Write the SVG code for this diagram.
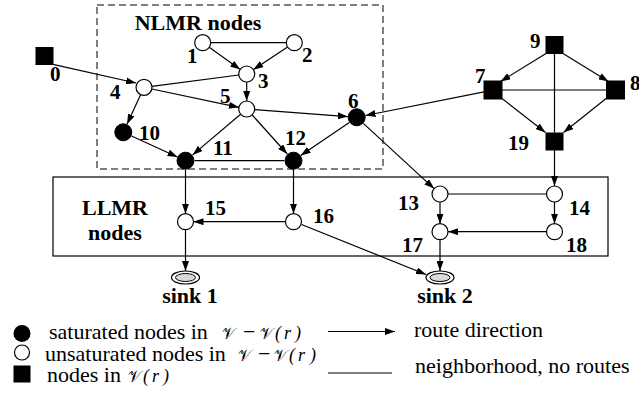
<svg xmlns="http://www.w3.org/2000/svg" width="639" height="395" viewBox="0 0 639 395">
<style>
text{font-family:"Liberation Serif","Times New Roman","DejaVu Serif",serif}
.lbl{font-weight:bold;font-size:21px;fill:#000}
.ttl{font-weight:bold;font-size:22px;fill:#000}
.leg{font-size:22px;fill:#000}
.math{font-family:"DejaVu Serif","DejaVu Sans","Noto Sans",serif;font-size:16px;fill:#000}
.mi{font-style:italic;font-size:18px;fill:#000}
.e{stroke:#000;stroke-width:1.2;fill:none}
.a{stroke:#000;stroke-width:1.2;fill:none;marker-end:url(#arr)}
.w{fill:#fff;stroke:#000;stroke-width:1.2}
.b{fill:#000;stroke:#000;stroke-width:1}
</style>
<defs>
<marker id="arr" markerUnits="userSpaceOnUse" markerWidth="10" markerHeight="7" refX="10" refY="3.5" orient="auto">
<path d="M0,0 L10,3.5 L0,7 z" fill="#000"/>
</marker>
</defs>
<rect x="97" y="5" width="286" height="164" fill="none" stroke="#000" stroke-width="1" stroke-dasharray="7,4"/>
<rect x="53" y="177" width="555" height="79" fill="none" stroke="#000" stroke-width="1.2"/>
<text class="ttl" x="198" y="30" text-anchor="middle" font-family="Liberation Serif, DejaVu Serif, serif">NLMR nodes</text>
<text class="ttl" x="115" y="215" text-anchor="middle" font-family="Liberation Serif, DejaVu Serif, serif">LLMR</text>
<text class="ttl" x="115" y="240" text-anchor="middle" font-family="Liberation Serif, DejaVu Serif, serif">nodes</text>
<g id="connectors">
<line class="a" x1="53" y1="64.3" x2="136" y2="83"/>
<line class="e" x1="210.7" y1="42.7" x2="286.3" y2="42.7"/>
<line class="a" x1="209.2" y1="47.3" x2="240.2" y2="69.4"/>
<line class="a" x1="287.6" y1="47.1" x2="253.4" y2="69.6"/>
<line class="e" x1="151.9" y1="86.3" x2="238.8" y2="75"/>
<line class="a" x1="246.7" y1="82" x2="246.7" y2="101"/>
<line class="a" x1="151.8" y1="89" x2="238.9" y2="107.3"/>
<line class="a" x1="140.7" y1="94.6" x2="127.1" y2="124.1"/>
<line class="a" x1="254.7" y1="109.6" x2="347.7" y2="116.6"/>
<line class="a" x1="240.6" y1="114.2" x2="192.6" y2="154.9"/>
<line class="a" x1="252.1" y1="114.9" x2="287.3" y2="154"/>
<line class="a" x1="131.5" y1="136" x2="177.5" y2="157"/>
<line class="e" x1="194.7" y1="160.7" x2="284.3" y2="160.7"/>
<line class="a" x1="349.3" y1="122.4" x2="300.7" y2="155.6"/>
<line class="a" x1="363.3" y1="123.4" x2="434.1" y2="188.6"/>
<line class="a" x1="484" y1="91.8" x2="365.5" y2="115.5"/>
<line class="a" x1="546" y1="53.5" x2="500.5" y2="81.5"/>
<line class="a" x1="563" y1="53.5" x2="608.5" y2="81.5"/>
<line class="e" x1="554.5" y1="53.5" x2="554.5" y2="132.5"/>
<line class="e" x1="502" y1="90" x2="606.5" y2="90"/>
<line class="a" x1="500" y1="97" x2="545.5" y2="132.5"/>
<line class="a" x1="608" y1="97" x2="563.5" y2="132.5"/>
<line class="a" x1="554.5" y1="150" x2="554.5" y2="186"/>
<line class="e" x1="448" y1="194" x2="546.5" y2="194"/>
<line class="a" x1="440" y1="202" x2="440" y2="223.7"/>
<line class="a" x1="554.5" y1="202" x2="554.5" y2="223.7"/>
<line class="a" x1="546.5" y1="231.7" x2="448" y2="231.7"/>
<line class="a" x1="185.5" y1="169.7" x2="185.5" y2="213.7"/>
<line class="a" x1="293.5" y1="169.7" x2="293.5" y2="213.7"/>
<line class="a" x1="285.5" y1="221.7" x2="193.5" y2="221.7"/>
<line class="a" x1="185.5" y1="229.7" x2="185.5" y2="271"/>
<line class="a" x1="301.5" y1="224.5" x2="426" y2="274.5"/>
<line class="a" x1="440" y1="239.7" x2="440" y2="271"/>
</g>
<g id="n0"><rect class="b" x="36" y="47.5" width="17" height="17"/><text class="lbl" x="50" y="81">0</text></g>
<g id="n1"><circle class="w" cx="202.7" cy="42.7" r="8"/><text class="lbl" x="187" y="63">1</text></g>
<g id="n2"><circle class="w" cx="294.3" cy="42.7" r="8"/><text class="lbl" x="302" y="62">2</text></g>
<g id="n3"><circle class="w" cx="246.7" cy="74" r="8"/><text class="lbl" x="258" y="88">3</text></g>
<g id="n4"><circle class="w" cx="144" cy="87.3" r="8"/><text class="lbl" x="110" y="99">4</text></g>
<g id="n5"><circle class="w" cx="246.7" cy="109" r="8"/><text class="lbl" x="220" y="103">5</text></g>
<g id="n6"><circle class="b" cx="356.7" cy="117.3" r="8.5"/><text class="lbl" x="348" y="108">6</text></g>
<g id="n7"><rect class="b" x="484" y="81" width="18" height="18"/><text class="lbl" x="475" y="83">7</text></g>
<g id="n8"><rect class="b" x="606.5" y="81" width="18" height="18"/><text class="lbl" x="630" y="90">8</text></g>
<g id="n9"><rect class="b" x="546" y="36.5" width="17" height="17"/><text class="lbl" x="530" y="48">9</text></g>
<g id="n10"><circle class="b" cx="123.3" cy="132.3" r="8.5"/><text class="lbl" x="139" y="140">10</text></g>
<g id="n11"><circle class="b" cx="185.5" cy="160.7" r="8.5"/><text class="lbl" x="213" y="155">11</text></g>
<g id="n12"><circle class="b" cx="293.5" cy="160.7" r="8.5"/><text class="lbl" x="285" y="145">12</text></g>
<g id="n13"><circle class="w" cx="440" cy="194" r="8"/><text class="lbl" x="398" y="210">13</text></g>
<g id="n14"><circle class="w" cx="554.5" cy="194" r="8"/><text class="lbl" x="569" y="215">14</text></g>
<g id="n15"><circle class="w" cx="185.5" cy="221.7" r="8"/><text class="lbl" x="205" y="215">15</text></g>
<g id="n16"><circle class="w" cx="293.5" cy="221.7" r="8"/><text class="lbl" x="313" y="223">16</text></g>
<g id="n17"><circle class="w" cx="440" cy="231.7" r="8"/><text class="lbl" x="402" y="252">17</text></g>
<g id="n18"><circle class="w" cx="554.5" cy="231.7" r="8"/><text class="lbl" x="566" y="252">18</text></g>
<g id="n19"><rect class="b" x="546" y="133" width="17" height="17"/><text class="lbl" x="508" y="150">19</text></g>
<g id="sink1"><ellipse cx="185.5" cy="277.5" rx="14" ry="6.5" fill="#fff" stroke="#000" stroke-width="1.2"/><ellipse cx="185.5" cy="277.5" rx="10" ry="4" fill="#d9d9d9" stroke="#000" stroke-width="1"/><text class="ttl" x="190" y="303" text-anchor="middle">sink 1</text></g>
<g id="sink2"><ellipse cx="440" cy="277.5" rx="14" ry="6.5" fill="#fff" stroke="#000" stroke-width="1.2"/><ellipse cx="440" cy="277.5" rx="10" ry="4" fill="#d9d9d9" stroke="#000" stroke-width="1"/><text class="ttl" x="445" y="303" text-anchor="middle">sink 2</text></g>
<g id="legend">
<circle cx="22" cy="333.5" r="8.5" fill="#000"/>
<circle cx="22" cy="352.5" r="7.5" fill="#fff" stroke="#000" stroke-width="1.2"/>
<rect x="13.5" y="365.5" width="17" height="17" fill="#000"/>
<text class="leg" x="49" y="339">saturated nodes in</text>
<text class="math" x="222" y="339">𝒱</text><text class="leg" x="243" y="339">−</text><text class="math" x="260" y="339">𝒱</text>
<text class="mi" x="275" y="339">(</text><text class="mi" x="284" y="339">r</text><text class="mi" x="295" y="339">)</text>
<text class="leg" x="45" y="361">unsaturated nodes in</text>
<text class="math" x="238" y="361">𝒱</text><text class="leg" x="258" y="361">−</text><text class="math" x="274" y="361">𝒱</text>
<text class="mi" x="289" y="361">(</text><text class="mi" x="298" y="361">r</text><text class="mi" x="310" y="361">)</text>
<text class="leg" x="47" y="382">nodes in</text>
<text class="math" x="128" y="382">𝒱</text>
<text class="mi" x="143" y="382">(</text><text class="mi" x="152" y="382">r</text><text class="mi" x="163" y="382">)</text>
<line class="a" x1="328" y1="331.5" x2="395" y2="331.5"/>
<line class="e" x1="328" y1="373" x2="392" y2="373"/>
<text class="leg" x="414" y="337">route direction</text>
<text class="leg" x="415" y="373">neighborhood, no routes</text>
</g>
</svg>
